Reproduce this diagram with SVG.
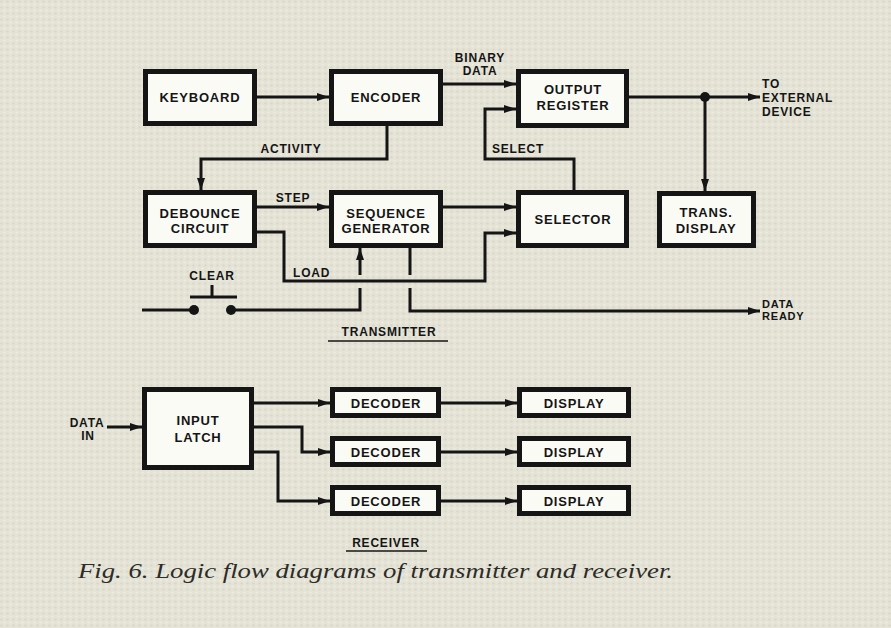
<svg xmlns="http://www.w3.org/2000/svg" width="891" height="628" viewBox="0 0 891 628">
<defs>
<pattern id="tex" width="6" height="6" patternUnits="userSpaceOnUse">
<rect width="6" height="6" fill="#e4e3d6"/>
<circle cx="1.5" cy="1.5" r="1.1" fill="#d6d5c6"/>
<circle cx="4.5" cy="4.5" r="1.1" fill="#eeede3"/>
</pattern>
<marker id="arr" viewBox="0 0 12 8" refX="12" refY="4" markerWidth="12" markerHeight="8" markerUnits="userSpaceOnUse" orient="auto">
<path d="M0,0 L12,4 L0,8 Z" fill="#151515"/>
</marker>
<style>
.box{fill:#fbfbf6;stroke:#151515;stroke-width:5}
.ln{fill:none;stroke:#151515;stroke-width:3;stroke-linejoin:miter}
.t{font-family:"Liberation Sans",Arial,sans-serif;font-weight:bold;font-size:13px;letter-spacing:0.8px;fill:#151515;text-anchor:middle}
.s{font-family:"Liberation Sans",Arial,sans-serif;font-weight:bold;font-size:12px;letter-spacing:0.8px;fill:#151515}
.c{font-family:"Liberation Serif","Times New Roman",serif;font-style:italic;font-size:21px;fill:#2c2c28}
</style>
</defs>
<rect width="891" height="628" fill="url(#tex)"/>

<g id="connectors">
<path class="ln" d="M257,97 H329" marker-end="url(#arr)"/>
<path class="ln" d="M443,84 H516" marker-end="url(#arr)"/>
<path class="ln" d="M387,126 V159 H201 V190" marker-end="url(#arr)"/>
<path class="ln" d="M629,97 H760" marker-end="url(#arr)"/>
<circle cx="705" cy="97" r="5" fill="#151515"/>
<path class="ln" d="M705,97 V191" marker-end="url(#arr)"/>
<path class="ln" d="M574,190 V159 H485 V109 H516" marker-end="url(#arr)"/>
<path class="ln" d="M257,207 H329" marker-end="url(#arr)"/>
<path class="ln" d="M443,207 H516" marker-end="url(#arr)"/>
<path class="ln" d="M257,232 H284 V281 H485 V233 H516" marker-end="url(#arr)"/>
<path class="ln" d="M142,310 H194"/>
<circle cx="194" cy="310" r="5" fill="#151515"/>
<circle cx="231" cy="310" r="5" fill="#151515"/>
<path class="ln" d="M190,297 H237 M212,285 V297"/>
<path class="ln" d="M231,310 H360 V288"/>
<path class="ln" d="M360,275 V248" marker-end="url(#arr)"/>
<path class="ln" d="M410,248 V275"/>
<path class="ln" d="M410,288 V311 H760" marker-end="url(#arr)"/>
<path class="ln" d="M107,427 H142" marker-end="url(#arr)"/>
<path class="ln" d="M254,403 H330" marker-end="url(#arr)"/>
<path class="ln" d="M254,427 H302 V452 H330" marker-end="url(#arr)"/>
<path class="ln" d="M254,452 H278 V501 H330" marker-end="url(#arr)"/>
<path class="ln" d="M441,403 H517" marker-end="url(#arr)"/>
<path class="ln" d="M441,452 H517" marker-end="url(#arr)"/>
<path class="ln" d="M441,501 H517" marker-end="url(#arr)"/>
</g>

<g id="labels">
<text class="s" x="291" y="153" text-anchor="middle">ACTIVITY</text>
<text class="s" x="293" y="202" text-anchor="middle">STEP</text>
<text class="s" x="518" y="153" text-anchor="middle">SELECT</text>
<text class="s" x="480" y="62" text-anchor="middle">BINARY</text>
<text class="s" x="480" y="75" text-anchor="middle">DATA</text>
<text class="s" x="762" y="88">TO</text>
<text class="s" x="762" y="102">EXTERNAL</text>
<text class="s" x="762" y="116">DEVICE</text>
<text class="s" x="293" y="277">LOAD</text>
<text class="s" x="212" y="280" text-anchor="middle">CLEAR</text>
<text class="s" x="762" y="308" style="font-size:11px">DATA</text>
<text class="s" x="762" y="320" style="font-size:11px">READY</text>
<text class="s" x="87" y="427" text-anchor="middle">DATA</text>
<text class="s" x="88" y="440" text-anchor="middle">IN</text>
<text class="s" x="389" y="336" text-anchor="middle">TRANSMITTER</text>
<line x1="328" y1="341" x2="448" y2="341" stroke="#151515" stroke-width="1.5"/>
<text class="s" x="386" y="547" text-anchor="middle">RECEIVER</text>
<line x1="346" y1="551" x2="427" y2="551" stroke="#151515" stroke-width="1.5"/>
<text class="c" x="78" y="578" textLength="595" lengthAdjust="spacingAndGlyphs">Fig. 6. Logic flow diagrams of transmitter and receiver.</text>
</g>

<g id="keyboard"><rect class="box" x="145.5" y="71.5" width="109" height="52"/><text class="t" x="200" y="102">KEYBOARD</text></g>
<g id="encoder"><rect class="box" x="331.5" y="71.5" width="109" height="52"/><text class="t" x="386" y="102">ENCODER</text></g>
<g id="output-register"><rect class="box" x="518.5" y="71.5" width="108" height="54"/><text class="t" x="573" y="94">OUTPUT</text><text class="t" x="573" y="110">REGISTER</text></g>
<g id="debounce"><rect class="box" x="145.5" y="192.5" width="109" height="53"/><text class="t" x="200" y="218">DEBOUNCE</text><text class="t" x="200" y="233">CIRCUIT</text></g>
<g id="sequence-generator"><rect class="box" x="331.5" y="192.5" width="109" height="53"/><text class="t" x="386" y="218">SEQUENCE</text><text class="t" x="386" y="233">GENERATOR</text></g>
<g id="selector"><rect class="box" x="518.5" y="192.5" width="108" height="53"/><text class="t" x="573" y="224">SELECTOR</text></g>
<g id="trans-display"><rect class="box" x="659.5" y="193.5" width="94" height="52"/><text class="t" x="706" y="217">TRANS.</text><text class="t" x="706" y="233">DISPLAY</text></g>
<g id="input-latch"><rect class="box" x="144.5" y="389.5" width="107" height="78"/><text class="t" x="198" y="425">INPUT</text><text class="t" x="198" y="442">LATCH</text></g>
<g id="decoder1"><rect class="box" x="332.5" y="389.5" width="106" height="26"/><text class="t" x="386" y="408">DECODER</text></g>
<g id="decoder2"><rect class="box" x="332.5" y="438.5" width="106" height="26"/><text class="t" x="386" y="457">DECODER</text></g>
<g id="decoder3"><rect class="box" x="332.5" y="487.5" width="106" height="26"/><text class="t" x="386" y="506">DECODER</text></g>
<g id="display1"><rect class="box" x="519.5" y="389.5" width="109" height="26"/><text class="t" x="574" y="408">DISPLAY</text></g>
<g id="display2"><rect class="box" x="519.5" y="438.5" width="109" height="26"/><text class="t" x="574" y="457">DISPLAY</text></g>
<g id="display3"><rect class="box" x="519.5" y="487.5" width="109" height="26"/><text class="t" x="574" y="506">DISPLAY</text></g>
</svg>
